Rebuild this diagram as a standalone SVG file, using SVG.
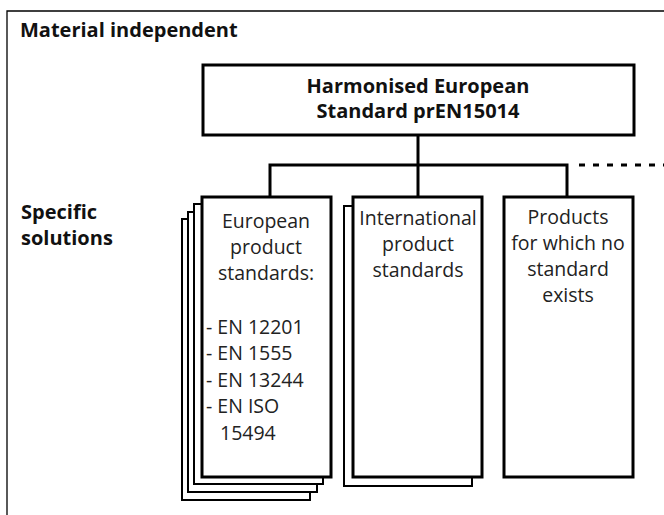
<svg xmlns="http://www.w3.org/2000/svg" width="664" height="515" viewBox="0 0 664 515">
<style>
.frame{fill:none;stroke:#000;stroke-width:1.3}
.box{fill:#fff;stroke:#000;stroke-width:3}
.shadow{fill:#fff;stroke:#000;stroke-width:2}
.conn{fill:none;stroke:#000;stroke-width:3}
.dots{fill:none;stroke:#000;stroke-width:3;stroke-dasharray:6 8}
.h{font-family:"Open Sans","Noto Sans",sans-serif;font-weight:bold;font-size:20px;fill:#111}
.t{font-family:"Open Sans","Noto Sans",sans-serif;font-size:19.5px;fill:#222}
</style>
<rect width="664" height="515" fill="#fff"/>
<g id="frame">
<polyline class="frame" points="7,515 7,11 664,11"/>
<text class="h" x="20" y="37">Material independent</text>
<text class="h" x="21" y="219">Specific</text>
<text class="h" x="21" y="245">solutions</text>
</g>
<g id="connectors">
<line class="conn" x1="418" y1="135" x2="418" y2="197"/>
<polyline class="conn" points="270,197 270,165 567,165 567,197"/>
<line class="dots" x1="579" y1="165" x2="664" y2="165"/>
</g>
<g id="harmonised">
<rect class="box" x="203" y="65" width="431" height="70"/>
<text class="h" text-anchor="middle" x="418" y="93">Harmonised European</text>
<text class="h" text-anchor="middle" x="418" y="118">Standard prEN15014</text>
</g>
<g id="european">
<rect class="shadow" x="182" y="219" width="128" height="281"/>
<rect class="shadow" x="188" y="212" width="129" height="280"/>
<rect class="shadow" x="194" y="204" width="129" height="280"/>
<rect class="box" x="202" y="197" width="129" height="280"/>
<text class="t" text-anchor="middle" x="266" y="228">European</text>
<text class="t" text-anchor="middle" x="266" y="254">product</text>
<text class="t" text-anchor="middle" x="266" y="280">standards:</text>
<text class="t" x="206" y="334">- EN 12201</text>
<text class="t" x="206" y="360">- EN 1555</text>
<text class="t" x="206" y="387">- EN 13244</text>
<text class="t" x="206" y="413">- EN ISO</text>
<text class="t" x="220" y="440">15494</text>
</g>
<g id="international">
<rect class="shadow" x="344" y="206" width="128" height="280"/>
<rect class="box" x="353" y="197" width="129" height="280"/>
<text class="t" text-anchor="middle" x="418" y="225">International</text>
<text class="t" text-anchor="middle" x="418" y="251">product</text>
<text class="t" text-anchor="middle" x="418" y="277">standards</text>
</g>
<g id="products">
<rect class="box" x="504" y="197" width="129" height="280"/>
<text class="t" text-anchor="middle" x="568" y="224">Products</text>
<text class="t" text-anchor="middle" x="568" y="250">for which no</text>
<text class="t" text-anchor="middle" x="568" y="276">standard</text>
<text class="t" text-anchor="middle" x="568" y="302">exists</text>
</g>
</svg>
